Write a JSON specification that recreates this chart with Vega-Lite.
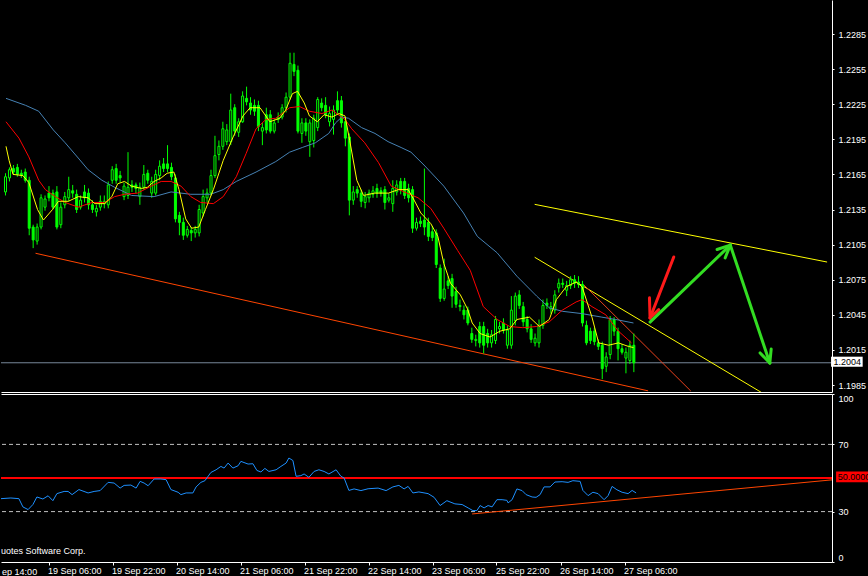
{
  "$schema": "https://vega.github.io/schema/vega-lite/v6.json",
  "background": "#000000",
  "padding": 0,
  "spacing": 1,
  "config": {
    "view": {"stroke": null},
    "axis": {"labelFont": "Liberation Sans", "labelFontSize": 9, "labelColor": "#ffffff", "domainColor": "#ffffff", "tickColor": "#ffffff", "grid": false, "title": null, "labelOverlap": false, "labelBound": false},
    "text": {"font": "Liberation Sans", "fontSize": 9}
  },
  "datasets": {
    "candles": [
      {"k":-1,"o":1.2150,"h":1.2166,"l":1.2147,"c":1.2163},
      {"k":0,"o":1.2162,"h":1.2171,"l":1.2159,"c":1.2169},
      {"k":1,"o":1.2170,"h":1.2173,"l":1.2165,"c":1.2167},
      {"k":2,"o":1.2171,"h":1.2174,"l":1.2163,"c":1.2165},
      {"k":3,"o":1.2166,"h":1.2169,"l":1.2162,"c":1.2164},
      {"k":4,"o":1.2167,"h":1.2170,"l":1.2158,"c":1.2160},
      {"k":5,"o":1.2160,"h":1.2163,"l":1.2113,"c":1.2119},
      {"k":6,"o":1.2120,"h":1.2122,"l":1.2102,"c":1.2109},
      {"k":7,"o":1.2108,"h":1.2123,"l":1.2105,"c":1.2120},
      {"k":8,"o":1.2120,"h":1.2148,"l":1.2118,"c":1.2145},
      {"k":9,"o":1.2137,"h":1.2147,"l":1.2134,"c":1.2144},
      {"k":10,"o":1.2149,"h":1.2155,"l":1.2142,"c":1.2145},
      {"k":11,"o":1.2149,"h":1.2152,"l":1.2135,"c":1.2137},
      {"k":12,"o":1.2150,"h":1.2155,"l":1.2118,"c":1.2120},
      {"k":13,"o":1.2122,"h":1.2141,"l":1.2119,"c":1.2137},
      {"k":14,"o":1.2139,"h":1.2150,"l":1.2136,"c":1.2146},
      {"k":15,"o":1.2145,"h":1.2163,"l":1.2142,"c":1.2152},
      {"k":16,"o":1.2151,"h":1.2156,"l":1.2145,"c":1.2149},
      {"k":17,"o":1.2148,"h":1.2152,"l":1.2132,"c":1.2135},
      {"k":18,"o":1.2137,"h":1.2147,"l":1.2135,"c":1.2143},
      {"k":19,"o":1.2150,"h":1.2156,"l":1.2141,"c":1.2145},
      {"k":20,"o":1.2149,"h":1.2153,"l":1.2135,"c":1.2139},
      {"k":21,"o":1.2139,"h":1.2143,"l":1.2132,"c":1.2135},
      {"k":22,"o":1.2133,"h":1.2139,"l":1.2129,"c":1.2136},
      {"k":23,"o":1.2137,"h":1.2147,"l":1.2134,"c":1.2142},
      {"k":24,"o":1.2140,"h":1.2147,"l":1.2136,"c":1.2142},
      {"k":25,"o":1.2139,"h":1.2159,"l":1.2136,"c":1.2156},
      {"k":26,"o":1.2160,"h":1.2172,"l":1.2157,"c":1.2169},
      {"k":27,"o":1.2170,"h":1.2174,"l":1.2157,"c":1.2160},
      {"k":28,"o":1.2164,"h":1.2168,"l":1.2158,"c":1.2162},
      {"k":29,"o":1.2146,"h":1.2158,"l":1.2143,"c":1.2155},
      {"k":30,"o":1.2147,"h":1.2184,"l":1.2144,"c":1.2154},
      {"k":31,"o":1.2156,"h":1.2160,"l":1.2150,"c":1.2154},
      {"k":32,"o":1.2156,"h":1.2158,"l":1.2149,"c":1.2153},
      {"k":33,"o":1.2146,"h":1.2158,"l":1.2139,"c":1.2154},
      {"k":34,"o":1.2154,"h":1.2173,"l":1.2152,"c":1.2165},
      {"k":35,"o":1.2166,"h":1.2169,"l":1.2157,"c":1.2160},
      {"k":36,"o":1.2149,"h":1.2163,"l":1.2145,"c":1.2159},
      {"k":37,"o":1.2149,"h":1.2169,"l":1.2147,"c":1.2165},
      {"k":38,"o":1.2164,"h":1.2177,"l":1.2160,"c":1.2172},
      {"k":39,"o":1.2174,"h":1.2179,"l":1.2167,"c":1.2170},
      {"k":40,"o":1.2174,"h":1.2190,"l":1.2167,"c":1.2170},
      {"k":41,"o":1.2171,"h":1.2175,"l":1.2160,"c":1.2163},
      {"k":42,"o":1.2162,"h":1.2165,"l":1.2124,"c":1.2127},
      {"k":43,"o":1.2130,"h":1.2133,"l":1.2113,"c":1.2124},
      {"k":44,"o":1.2124,"h":1.2128,"l":1.2109,"c":1.2113},
      {"k":45,"o":1.2113,"h":1.2121,"l":1.2111,"c":1.2118},
      {"k":46,"o":1.2117,"h":1.2120,"l":1.2108,"c":1.2115},
      {"k":47,"o":1.2115,"h":1.2121,"l":1.2111,"c":1.2118},
      {"k":48,"o":1.2115,"h":1.2139,"l":1.2112,"c":1.2135},
      {"k":49,"o":1.2132,"h":1.2152,"l":1.2129,"c":1.2146},
      {"k":50,"o":1.2145,"h":1.2153,"l":1.2141,"c":1.2149},
      {"k":51,"o":1.2149,"h":1.2169,"l":1.2147,"c":1.2164},
      {"k":52,"o":1.2164,"h":1.2198,"l":1.2162,"c":1.2181},
      {"k":53,"o":1.2182,"h":1.2194,"l":1.2177,"c":1.2189},
      {"k":54,"o":1.2189,"h":1.2210,"l":1.2186,"c":1.2204},
      {"k":55,"o":1.2193,"h":1.2208,"l":1.2190,"c":1.2203},
      {"k":56,"o":1.2193,"h":1.2234,"l":1.2190,"c":1.2220},
      {"k":57,"o":1.2222,"h":1.2225,"l":1.2198,"c":1.2202},
      {"k":58,"o":1.2201,"h":1.2213,"l":1.2197,"c":1.2210},
      {"k":59,"o":1.2210,"h":1.2236,"l":1.2209,"c":1.2232},
      {"k":60,"o":1.2230,"h":1.2240,"l":1.2224,"c":1.2227},
      {"k":61,"o":1.2226,"h":1.2231,"l":1.2216,"c":1.2220},
      {"k":62,"o":1.2224,"h":1.2229,"l":1.2215,"c":1.2219},
      {"k":63,"o":1.2224,"h":1.2228,"l":1.2202,"c":1.2206},
      {"k":64,"o":1.2202,"h":1.2209,"l":1.2190,"c":1.2205},
      {"k":65,"o":1.2216,"h":1.2222,"l":1.2200,"c":1.2203},
      {"k":66,"o":1.2216,"h":1.2220,"l":1.2200,"c":1.2202},
      {"k":67,"o":1.2202,"h":1.2212,"l":1.2200,"c":1.2209},
      {"k":68,"o":1.2212,"h":1.2218,"l":1.2209,"c":1.2214},
      {"k":69,"o":1.2214,"h":1.2225,"l":1.2212,"c":1.2222},
      {"k":70,"o":1.2222,"h":1.2235,"l":1.2218,"c":1.2231},
      {"k":71,"o":1.2231,"h":1.2269,"l":1.2229,"c":1.2260},
      {"k":72,"o":1.2259,"h":1.2269,"l":1.2249,"c":1.2253},
      {"k":73,"o":1.2254,"h":1.2258,"l":1.2200,"c":1.2202},
      {"k":74,"o":1.2200,"h":1.2213,"l":1.2192,"c":1.2209},
      {"k":75,"o":1.2209,"h":1.2213,"l":1.2198,"c":1.2202},
      {"k":76,"o":1.2193,"h":1.2212,"l":1.2180,"c":1.2209},
      {"k":77,"o":1.2194,"h":1.2216,"l":1.2188,"c":1.2213},
      {"k":78,"o":1.2205,"h":1.2231,"l":1.2202,"c":1.2229},
      {"k":79,"o":1.2226,"h":1.2230,"l":1.2219,"c":1.2222},
      {"k":80,"o":1.2224,"h":1.2231,"l":1.2213,"c":1.2216},
      {"k":81,"o":1.2210,"h":1.2223,"l":1.2206,"c":1.2217},
      {"k":82,"o":1.2212,"h":1.2224,"l":1.2199,"c":1.2220},
      {"k":83,"o":1.2228,"h":1.2236,"l":1.2217,"c":1.2220},
      {"k":84,"o":1.2228,"h":1.2232,"l":1.2205,"c":1.2209},
      {"k":85,"o":1.2210,"h":1.2213,"l":1.2189,"c":1.2196},
      {"k":86,"o":1.2197,"h":1.2200,"l":1.2130,"c":1.2143},
      {"k":87,"o":1.2143,"h":1.2155,"l":1.2139,"c":1.2150},
      {"k":88,"o":1.2152,"h":1.2155,"l":1.2145,"c":1.2149},
      {"k":89,"o":1.2149,"h":1.2152,"l":1.2137,"c":1.2142},
      {"k":90,"o":1.2141,"h":1.2150,"l":1.2136,"c":1.2146},
      {"k":91,"o":1.2145,"h":1.2152,"l":1.2141,"c":1.2149},
      {"k":92,"o":1.2148,"h":1.2155,"l":1.2145,"c":1.2151},
      {"k":93,"o":1.2153,"h":1.2157,"l":1.2145,"c":1.2149},
      {"k":94,"o":1.2151,"h":1.2154,"l":1.2146,"c":1.2149},
      {"k":95,"o":1.2152,"h":1.2155,"l":1.2135,"c":1.2141},
      {"k":96,"o":1.2143,"h":1.2149,"l":1.2141,"c":1.2145},
      {"k":97,"o":1.2140,"h":1.2160,"l":1.2133,"c":1.2153},
      {"k":98,"o":1.2150,"h":1.2160,"l":1.2147,"c":1.2156},
      {"k":99,"o":1.2159,"h":1.2162,"l":1.2148,"c":1.2152},
      {"k":100,"o":1.2159,"h":1.2162,"l":1.2144,"c":1.2147},
      {"k":101,"o":1.2153,"h":1.2157,"l":1.2141,"c":1.2145},
      {"k":102,"o":1.2152,"h":1.2155,"l":1.2115,"c":1.2119},
      {"k":103,"o":1.2119,"h":1.2128,"l":1.2117,"c":1.2124},
      {"k":104,"o":1.2125,"h":1.2129,"l":1.2120,"c":1.2123},
      {"k":105,"o":1.2126,"h":1.2170,"l":1.2113,"c":1.2120},
      {"k":106,"o":1.2124,"h":1.2128,"l":1.2108,"c":1.2112},
      {"k":107,"o":1.2116,"h":1.2121,"l":1.2108,"c":1.2111},
      {"k":108,"o":1.2115,"h":1.2118,"l":1.2085,"c":1.2088},
      {"k":109,"o":1.2085,"h":1.2088,"l":1.2056,"c":1.2059},
      {"k":110,"o":1.2059,"h":1.2093,"l":1.2057,"c":1.2067},
      {"k":111,"o":1.2074,"h":1.2078,"l":1.2067,"c":1.2070},
      {"k":112,"o":1.2076,"h":1.2080,"l":1.2051,"c":1.2061},
      {"k":113,"o":1.2065,"h":1.2069,"l":1.2051,"c":1.2054},
      {"k":114,"o":1.2053,"h":1.2058,"l":1.2048,"c":1.2052},
      {"k":115,"o":1.2049,"h":1.2053,"l":1.2041,"c":1.2045},
      {"k":116,"o":1.2049,"h":1.2052,"l":1.2036,"c":1.2038},
      {"k":117,"o":1.2029,"h":1.2034,"l":1.2021,"c":1.2024},
      {"k":118,"o":1.2023,"h":1.2028,"l":1.2018,"c":1.2024},
      {"k":119,"o":1.2035,"h":1.2039,"l":1.2017,"c":1.2021},
      {"k":120,"o":1.2035,"h":1.2039,"l":1.2012,"c":1.2019},
      {"k":121,"o":1.2029,"h":1.2033,"l":1.2017,"c":1.2021},
      {"k":122,"o":1.2021,"h":1.2032,"l":1.2017,"c":1.2028},
      {"k":123,"o":1.2023,"h":1.2044,"l":1.2020,"c":1.2041},
      {"k":124,"o":1.2033,"h":1.2039,"l":1.2029,"c":1.2035},
      {"k":125,"o":1.2038,"h":1.2042,"l":1.2029,"c":1.2032},
      {"k":126,"o":1.2019,"h":1.2036,"l":1.2016,"c":1.2032},
      {"k":127,"o":1.2019,"h":1.2061,"l":1.2016,"c":1.2049},
      {"k":128,"o":1.2040,"h":1.2064,"l":1.2036,"c":1.2061},
      {"k":129,"o":1.2062,"h":1.2066,"l":1.2050,"c":1.2053},
      {"k":130,"o":1.2052,"h":1.2056,"l":1.2035,"c":1.2039},
      {"k":131,"o":1.2041,"h":1.2044,"l":1.2030,"c":1.2033},
      {"k":132,"o":1.2033,"h":1.2037,"l":1.2021,"c":1.2024},
      {"k":133,"o":1.2021,"h":1.2029,"l":1.2018,"c":1.2025},
      {"k":134,"o":1.2021,"h":1.2041,"l":1.2017,"c":1.2036},
      {"k":135,"o":1.2036,"h":1.2058,"l":1.2033,"c":1.2053},
      {"k":136,"o":1.2055,"h":1.2059,"l":1.2050,"c":1.2053},
      {"k":137,"o":1.2050,"h":1.2056,"l":1.2046,"c":1.2052},
      {"k":138,"o":1.2049,"h":1.2066,"l":1.2046,"c":1.2062},
      {"k":139,"o":1.2068,"h":1.2076,"l":1.2064,"c":1.2072},
      {"k":140,"o":1.2072,"h":1.2076,"l":1.2068,"c":1.2071},
      {"k":141,"o":1.2066,"h":1.2074,"l":1.2061,"c":1.2070},
      {"k":142,"o":1.2070,"h":1.2078,"l":1.2067,"c":1.2075},
      {"k":143,"o":1.2075,"h":1.2079,"l":1.2068,"c":1.2072},
      {"k":144,"o":1.2073,"h":1.2078,"l":1.2068,"c":1.2071},
      {"k":145,"o":1.2071,"h":1.2074,"l":1.2035,"c":1.2038},
      {"k":146,"o":1.2036,"h":1.2040,"l":1.2019,"c":1.2021},
      {"k":147,"o":1.2031,"h":1.2034,"l":1.2020,"c":1.2023},
      {"k":148,"o":1.2031,"h":1.2034,"l":1.2019,"c":1.2022},
      {"k":149,"o":1.2021,"h":1.2024,"l":1.2015,"c":1.2018},
      {"k":150,"o":1.2019,"h":1.2022,"l":1.1990,"c":1.1999},
      {"k":151,"o":1.2001,"h":1.2013,"l":1.1996,"c":1.2009},
      {"k":152,"o":1.2011,"h":1.2044,"l":1.2007,"c":1.2041},
      {"k":153,"o":1.2041,"h":1.2043,"l":1.2027,"c":1.2031},
      {"k":154,"o":1.2031,"h":1.2034,"l":1.2006,"c":1.2016},
      {"k":155,"o":1.2016,"h":1.2020,"l":1.2011,"c":1.2013},
      {"k":156,"o":1.2008,"h":1.2017,"l":1.1995,"c":1.2013},
      {"k":157,"o":1.2006,"h":1.2023,"l":1.2003,"c":1.2019},
      {"k":158,"o":1.2019,"h":1.2029,"l":1.1996,"c":1.2004}
    ],
    "maSlow": [
      {"k":-0.875,"v":1.2230},{"k":4.1,"v":1.2224},{"k":7.4,"v":1.2219},{"k":11.1,"v":1.2203},{"k":14.1,"v":1.2192},{"k":17.4,"v":1.2179},{"k":19.9,"v":1.2169},{"k":23.4,"v":1.2160},{"k":26.6,"v":1.2154},{"k":30.9,"v":1.2147},{"k":36.6,"v":1.2146},{"k":40.9,"v":1.2150},{"k":45.9,"v":1.2148},{"k":50.9,"v":1.2148},{"k":54.1,"v":1.2152},{"k":57.4,"v":1.2159},{"k":62.4,"v":1.2167},{"k":67.4,"v":1.2176},{"k":70.9,"v":1.2184},{"k":74.1,"v":1.2188},{"k":77.4,"v":1.2192},{"k":80.8,"v":1.2200},{"k":82.5,"v":1.2209},{"k":84.1,"v":1.2214},{"k":85.8,"v":1.2213},{"k":89.1,"v":1.2205},{"k":92.5,"v":1.2200},{"k":95.8,"v":1.2193},{"k":99.1,"v":1.2188},{"k":101.6,"v":1.2184},{"k":104.9,"v":1.2173},{"k":109.9,"v":1.2155},{"k":114.9,"v":1.2132},{"k":118.4,"v":1.2112},{"k":123.4,"v":1.2098},{"k":128.4,"v":1.2078},{"k":133.4,"v":1.2061},{"k":136.6,"v":1.2051},{"k":139.9,"v":1.2048},{"k":144.9,"v":1.2046},{"k":149.9,"v":1.2043},{"k":153.4,"v":1.2041},{"k":157.9,"v":1.2038}
    ],
    "maMid": [
      {"k":-0.875,"v":1.2210},{"k":2.4,"v":1.2196},{"k":4.9,"v":1.2180},{"k":7.4,"v":1.2160},{"k":9.1,"v":1.2152},{"k":11.6,"v":1.2146},{"k":14.1,"v":1.2141},{"k":17.4,"v":1.2137},{"k":20.9,"v":1.2141},{"k":24.1,"v":1.2141},{"k":26.6,"v":1.2146},{"k":29.1,"v":1.2148},{"k":32.4,"v":1.2149},{"k":35.9,"v":1.2155},{"k":38.4,"v":1.2159},{"k":40.9,"v":1.2159},{"k":43.4,"v":1.2155},{"k":45.9,"v":1.2146},{"k":48.4,"v":1.2141},{"k":51.6,"v":1.2140},{"k":54.1,"v":1.2146},{"k":57.4,"v":1.2163},{"k":59.9,"v":1.2183},{"k":62.4,"v":1.2204},{"k":64.9,"v":1.2212},{"k":67.4,"v":1.2213},{"k":70.9,"v":1.2222},{"k":73.4,"v":1.2223},{"k":75.9,"v":1.2219},{"k":79.1,"v":1.2217},{"k":81.6,"v":1.2220},{"k":84.9,"v":1.2212},{"k":86.6,"v":1.2204},{"k":89.9,"v":1.2192},{"k":93.4,"v":1.2175},{"k":96.6,"v":1.2155},{"k":99.9,"v":1.2150},{"k":103.4,"v":1.2145},{"k":106.6,"v":1.2136},{"k":109.9,"v":1.2119},{"k":113.4,"v":1.2100},{"k":116.6,"v":1.2083},{"k":119.9,"v":1.2052},{"k":123.4,"v":1.2041},{"k":126.6,"v":1.2035},{"k":129.9,"v":1.2034},{"k":133.4,"v":1.2035},{"k":136.6,"v":1.2039},{"k":139.9,"v":1.2049},{"k":143.4,"v":1.2056},{"k":144.9,"v":1.2058},{"k":147.4,"v":1.2052},{"k":150.9,"v":1.2045},{"k":154.1,"v":1.2031},{"k":157.4,"v":1.2021}
    ],
    "maFast": [
      {"k":-0.875,"v":1.2189},{"k":-0.1,"v":1.2177},{"k":0.9,"v":1.2165},{"k":3.4,"v":1.2164},{"k":4.9,"v":1.2158},{"k":7.1,"v":1.2135},{"k":8.6,"v":1.2126},{"k":10.9,"v":1.2135},{"k":12.4,"v":1.2142},{"k":14.9,"v":1.2142},{"k":17.4,"v":1.2146},{"k":19.9,"v":1.2145},{"k":21.6,"v":1.2140},{"k":24.1,"v":1.2140},{"k":25.9,"v":1.2146},{"k":27.4,"v":1.2157},{"k":29.1,"v":1.2159},{"k":30.9,"v":1.2155},{"k":33.4,"v":1.2153},{"k":34.9,"v":1.2154},{"k":36.6,"v":1.2159},{"k":38.4,"v":1.2162},{"k":39.9,"v":1.2166},{"k":41.6,"v":1.2167},{"k":42.9,"v":1.2152},{"k":44.6,"v":1.2127},{"k":46.1,"v":1.2119},{"k":47.9,"v":1.2120},{"k":49.6,"v":1.2135},{"k":51.6,"v":1.2152},{"k":54.1,"v":1.2177},{"k":56.6,"v":1.2197},{"k":59.1,"v":1.2215},{"k":60.9,"v":1.2222},{"k":63.4,"v":1.2222},{"k":65.9,"v":1.2210},{"k":68.4,"v":1.2213},{"k":69.9,"v":1.2220},{"k":71.6,"v":1.2234},{"k":72.9,"v":1.2236},{"k":74.6,"v":1.2226},{"k":75.9,"v":1.2215},{"k":77.9,"v":1.2210},{"k":79.6,"v":1.2216},{"k":81.6,"v":1.2214},{"k":83.4,"v":1.2217},{"k":84.9,"v":1.2215},{"k":86.1,"v":1.2194},{"k":87.9,"v":1.2160},{"k":89.6,"v":1.2147},{"k":92.4,"v":1.2149},{"k":95.9,"v":1.2149},{"k":98.4,"v":1.2152},{"k":100.9,"v":1.2152},{"k":102.4,"v":1.2143},{"k":104.1,"v":1.2132},{"k":106.6,"v":1.2123},{"k":108.4,"v":1.2112},{"k":109.9,"v":1.2089},{"k":111.6,"v":1.2072},{"k":114.1,"v":1.2062},{"k":115.9,"v":1.2050},{"k":117.1,"v":1.2038},{"k":119.1,"v":1.2029},{"k":121.6,"v":1.2026},{"k":124.1,"v":1.2031},{"k":126.6,"v":1.2033},{"k":128.4,"v":1.2041},{"k":131.6,"v":1.2043},{"k":134.1,"v":1.2035},{"k":136.6,"v":1.2041},{"k":138.4,"v":1.2058},{"k":140.9,"v":1.2069},{"k":143.4,"v":1.2073},{"k":144.9,"v":1.2069},{"k":147.4,"v":1.2043},{"k":149.1,"v":1.2021},{"k":151.6,"v":1.2019},{"k":154.1,"v":1.2021},{"k":156.6,"v":1.2018},{"k":157.9,"v":1.2017}
    ],
    "rsi": [
      {"k":-0.9,"v":37.7},{"k":1.6,"v":38.1},{"k":3.6,"v":37.7},{"k":4.6,"v":32.8},{"k":5.9,"v":31.2},{"k":7.1,"v":34.2},{"k":8.1,"v":38.7},{"k":9.6,"v":37.5},{"k":10.9,"v":39.4},{"k":12.1,"v":36.5},{"k":13.1,"v":40.7},{"k":14.9,"v":42},{"k":15.9,"v":42},{"k":16.9,"v":40.1},{"k":18.6,"v":43.1},{"k":20.9,"v":41.1},{"k":22.4,"v":42},{"k":23.9,"v":42.5},{"k":25.9,"v":47.4},{"k":27.4,"v":47},{"k":28.9,"v":44},{"k":29.9,"v":45.6},{"k":31.6,"v":45.8},{"k":32.9,"v":44},{"k":33.9,"v":48},{"k":34.9,"v":47},{"k":35.9,"v":45.4},{"k":37.4,"v":49.4},{"k":39.1,"v":49.4},{"k":40.4,"v":49},{"k":41.6,"v":43.1},{"k":43.4,"v":41.5},{"k":44.1,"v":40.1},{"k":45.4,"v":41.1},{"k":47.1,"v":41.1},{"k":47.9,"v":44.7},{"k":49.1,"v":47.4},{"k":50.1,"v":48.4},{"k":51.6,"v":53.3},{"k":52.9,"v":54.9},{"k":54.1,"v":56.9},{"k":54.9,"v":55.9},{"k":55.9,"v":58.9},{"k":57.1,"v":55.9},{"k":58.4,"v":57.3},{"k":59.1,"v":59.9},{"k":60.9,"v":58.3},{"k":62.1,"v":58.5},{"k":63.1,"v":54.5},{"k":64.1,"v":53.6},{"k":65.1,"v":55.7},{"k":66.1,"v":53.9},{"k":67.9,"v":54.9},{"k":69.1,"v":56.9},{"k":70.4,"v":58.9},{"k":71.1,"v":61.9},{"k":72.1,"v":60.4},{"k":72.9,"v":51},{"k":74.1,"v":51.4},{"k":74.9,"v":52.4},{"k":76.1,"v":50.4},{"k":77.4,"v":53.9},{"k":78.6,"v":54.9},{"k":79.9,"v":53.9},{"k":81.1,"v":52.4},{"k":82.9,"v":54.9},{"k":84.1,"v":51},{"k":84.9,"v":50},{"k":86.1,"v":42.6},{"k":87.4,"v":43.5},{"k":89.1,"v":42.5},{"k":90.9,"v":43.6},{"k":93.4,"v":44},{"k":95.4,"v":42.5},{"k":97.1,"v":44.7},{"k":98.6,"v":45.6},{"k":99.9,"v":43.5},{"k":100.9,"v":45},{"k":102.1,"v":41.1},{"k":103.6,"v":41.7},{"k":105.9,"v":40.7},{"k":107.4,"v":38.5},{"k":108.9,"v":33.6},{"k":110.6,"v":36.5},{"k":112.6,"v":34.6},{"k":114.4,"v":34.2},{"k":115.9,"v":32.2},{"k":117.1,"v":30.6},{"k":118.1,"v":30.6},{"k":118.9,"v":33.6},{"k":119.9,"v":32.2},{"k":120.9,"v":33.6},{"k":121.9,"v":32.8},{"k":123.1,"v":37.1},{"k":124.4,"v":37.1},{"k":125.6,"v":36.7},{"k":125.9,"v":35.2},{"k":126.9,"v":37.1},{"k":128.1,"v":43.5},{"k":129.4,"v":42.5},{"k":130.4,"v":40.1},{"k":131.9,"v":38.7},{"k":132.9,"v":38.5},{"k":133.9,"v":40.1},{"k":134.9,"v":44.7},{"k":136.4,"v":44.7},{"k":137.6,"v":47.6},{"k":139.4,"v":47.8},{"k":140.9,"v":47.4},{"k":142.1,"v":48.4},{"k":143.9,"v":48},{"k":144.6,"v":42.6},{"k":145.9,"v":39.5},{"k":147.1,"v":41.5},{"k":148.4,"v":40.7},{"k":149.9,"v":37.1},{"k":150.9,"v":39.5},{"k":151.9,"v":45},{"k":153.1,"v":43},{"k":154.4,"v":41.5},{"k":155.9,"v":40.7},{"k":156.9,"v":42.6},{"k":157.9,"v":41.1}
    ],
    "trendOrange": [{"k1":6.6,"p1":1.20976,"k2":161.6,"p2":1.19800}],
    "trendYellow": [{"k1":132.9,"p1":1.21394,"k2":206.9,"p2":1.20901},{"k1":132.9,"p1":1.20942,"k2":190.4,"p2":1.19784}],
    "trendThin": [{"k1":145.4,"p1":1.20704,"k2":172.4,"p2":1.19799}],
    "arrowRed": [{"k1":168.1,"p1":1.20944,"k2":162.1,"p2":1.20423},{"k1":162.1,"p1":1.20423,"k2":164.3,"p2":1.20494},{"k1":162.1,"p1":1.20423,"k2":161.95,"p2":1.20595}],
    "arrowGreen": [{"k1":162.1,"p1":1.20388,"k2":182.4,"p2":1.21046},{"k1":182.4,"p1":1.21046,"k2":181.1,"p2":1.20936},{"k1":182.4,"p1":1.21046,"k2":179.05,"p2":1.21008},{"k1":182.4,"p1":1.21046,"k2":192.4,"p2":1.20038},{"k1":192.4,"p1":1.20038,"k2":192.75,"p2":1.20157},{"k1":192.4,"p1":1.20038,"k2":189.95,"p2":1.20124}],
    "hline": [{"p":1.2004}],
    "priceBox": [{"k1":207.9,"k2":215.9,"p1":1.20006,"p2":1.20092,"k":208.5,"p":1.20046,"t":"1.2004"}],
    "rsiTrend": [{"k1":116.9,"v1":28.6,"k2":206.9,"v2":48.9}],
    "levels": [{"v":30},{"v":70}],
    "mid": [{"v":50}],
    "rsiBox": [{"k1":207.9,"k2":217,"v1":47.4,"v2":53.9,"k":208.3,"v":50.4,"t":"50.0000"}],
    "copy": [{"k":-0.875,"v":6.6,"t":"uotes Software Corp."}],
    "firstLabel": [{"k":-0.6,"v":-3.6,"t":"ep 14:00"}]
  },
  "vconcat": [
    {
      "width": 831,
      "height": 392,
      "layer": [
        {
          "data": {"name": "hline"},
          "mark": {"type": "rule", "color": "#778899", "strokeWidth": 1},
          "encoding": {
            "y": {"field": "p", "type": "quantitative", "scale": {"domain": [1.197902, 1.231406], "nice": false, "zero": false},
              "axis": {"orient": "right", "values": [1.1985, 1.2015, 1.2045, 1.2075, 1.2105, 1.2135, 1.2165, 1.2195, 1.2225, 1.2255, 1.2285], "tickCount": 30, "format": ".4f", "tickSize": 2, "labelPadding": 4, "labelAlign": "left", "labelBaseline": "middle", "labelOverlap": false}}
          }
        },
        {
          "data": {"name": "trendOrange"},
          "mark": {"type": "rule", "color": "#ff4500", "strokeWidth": 1, "clip": true},
          "encoding": {
            "x": {"field": "k1", "type": "quantitative", "scale": {"domain": [-0.875, 206.875], "nice": false, "zero": false},
              "axis": {"orient": "bottom", "labels": false, "ticks": false, "domain": true}},
            "x2": {"field": "k2"},
            "y": {"field": "p1", "type": "quantitative", "scale": {"domain": [1.197902, 1.231406], "nice": false, "zero": false}},
            "y2": {"field": "p2"}
          }
        },
        {
          "data": {"name": "trendYellow"},
          "mark": {"type": "rule", "color": "#ffff00", "strokeWidth": 1, "clip": true},
          "encoding": {
            "x": {"field": "k1", "type": "quantitative", "scale": {"domain": [-0.875, 206.875], "nice": false, "zero": false}},
            "x2": {"field": "k2"},
            "y": {"field": "p1", "type": "quantitative", "scale": {"domain": [1.197902, 1.231406], "nice": false, "zero": false}},
            "y2": {"field": "p2"}
          }
        },
        {
          "data": {"name": "trendThin"},
          "mark": {"type": "rule", "color": "#e8401c", "strokeWidth": 1, "clip": true},
          "encoding": {
            "x": {"field": "k1", "type": "quantitative", "scale": {"domain": [-0.875, 206.875], "nice": false, "zero": false}},
            "x2": {"field": "k2"},
            "y": {"field": "p1", "type": "quantitative", "scale": {"domain": [1.197902, 1.231406], "nice": false, "zero": false}},
            "y2": {"field": "p2"}
          }
        },
        {
          "data": {"name": "candles"},
          "mark": {"type": "rule", "color": "#00ff00", "strokeWidth": 1, "clip": true},
          "encoding": {
            "x": {"field": "k", "type": "quantitative", "scale": {"domain": [-0.875, 206.875], "nice": false, "zero": false}},
            "y": {"field": "l", "type": "quantitative", "scale": {"domain": [1.197902, 1.231406], "nice": false, "zero": false}},
            "y2": {"field": "h"}
          }
        },
        {
          "data": {"name": "candles"},
          "mark": {"type": "bar", "size": 2, "stroke": "#00ff00", "strokeWidth": 1, "clip": true},
          "encoding": {
            "x": {"field": "k", "type": "quantitative", "scale": {"domain": [-0.875, 206.875], "nice": false, "zero": false}},
            "y": {"field": "o", "type": "quantitative", "scale": {"domain": [1.197902, 1.231406], "nice": false, "zero": false}},
            "y2": {"field": "c"},
            "fill": {"condition": {"test": "datum.c > datum.o", "value": "#000000"}, "value": "#00ff00"}
          }
        },
        {
          "data": {"name": "maSlow"},
          "mark": {"type": "line", "color": "#4682b4", "strokeWidth": 1, "clip": true},
          "encoding": {
            "x": {"field": "k", "type": "quantitative", "scale": {"domain": [-0.875, 206.875], "nice": false, "zero": false}},
            "y": {"field": "v", "type": "quantitative", "scale": {"domain": [1.197902, 1.231406], "nice": false, "zero": false}}
          }
        },
        {
          "data": {"name": "maMid"},
          "mark": {"type": "line", "color": "#ff0000", "strokeWidth": 1, "clip": true},
          "encoding": {
            "x": {"field": "k", "type": "quantitative", "scale": {"domain": [-0.875, 206.875], "nice": false, "zero": false}},
            "y": {"field": "v", "type": "quantitative", "scale": {"domain": [1.197902, 1.231406], "nice": false, "zero": false}}
          }
        },
        {
          "data": {"name": "maFast"},
          "mark": {"type": "line", "color": "#ffff00", "strokeWidth": 1, "clip": true},
          "encoding": {
            "x": {"field": "k", "type": "quantitative", "scale": {"domain": [-0.875, 206.875], "nice": false, "zero": false}},
            "y": {"field": "v", "type": "quantitative", "scale": {"domain": [1.197902, 1.231406], "nice": false, "zero": false}}
          }
        },
        {
          "data": {"name": "arrowRed"},
          "mark": {"type": "rule", "color": "#ff1a1a", "strokeWidth": 3, "strokeCap": "round", "clip": true},
          "encoding": {
            "x": {"field": "k1", "type": "quantitative", "scale": {"domain": [-0.875, 206.875], "nice": false, "zero": false}},
            "x2": {"field": "k2"},
            "y": {"field": "p1", "type": "quantitative", "scale": {"domain": [1.197902, 1.231406], "nice": false, "zero": false}},
            "y2": {"field": "p2"}
          }
        },
        {
          "data": {"name": "arrowGreen"},
          "mark": {"type": "rule", "color": "#33dd22", "strokeWidth": 3, "strokeCap": "round", "clip": true},
          "encoding": {
            "x": {"field": "k1", "type": "quantitative", "scale": {"domain": [-0.875, 206.875], "nice": false, "zero": false}},
            "x2": {"field": "k2"},
            "y": {"field": "p1", "type": "quantitative", "scale": {"domain": [1.197902, 1.231406], "nice": false, "zero": false}},
            "y2": {"field": "p2"}
          }
        },
        {
          "data": {"name": "priceBox"},
          "mark": {"type": "rect", "fill": "#ffffff", "clip": false},
          "encoding": {
            "x": {"field": "k1", "type": "quantitative", "scale": {"domain": [-0.875, 206.875], "nice": false, "zero": false}},
            "x2": {"field": "k2"},
            "y": {"field": "p1", "type": "quantitative", "scale": {"domain": [1.197902, 1.231406], "nice": false, "zero": false}},
            "y2": {"field": "p2"}
          }
        },
        {
          "data": {"name": "priceBox"},
          "mark": {"type": "text", "color": "#000000", "align": "left", "baseline": "middle", "clip": false},
          "encoding": {
            "x": {"field": "k", "type": "quantitative", "scale": {"domain": [-0.875, 206.875], "nice": false, "zero": false}},
            "y": {"field": "p", "type": "quantitative", "scale": {"domain": [1.197902, 1.231406], "nice": false, "zero": false}},
            "text": {"field": "t"}
          }
        }
      ]
    },
    {
      "width": 831,
      "height": 168,
      "resolve": {"axis": {"x": "independent"}},
      "layer": [
        {
          "data": {"name": "levels"},
          "mark": {"type": "rule", "color": "#c0c0c0", "strokeWidth": 1, "strokeDash": [4, 3]},
          "encoding": {
            "y": {"field": "v", "type": "quantitative", "scale": {"domain": [0, 100], "nice": false, "zero": false},
              "axis": {"orient": "right", "values": [0, 30, 70, 100], "tickCount": 10, "tickSize": 2, "labelPadding": 4, "labelAlign": "left", "labelFlush": true, "labelOverlap": false}}
          }
        },
        {
          "data": {"name": "mid"},
          "mark": {"type": "rule", "color": "#ff0000", "strokeWidth": 2},
          "encoding": {
            "y": {"field": "v", "type": "quantitative", "scale": {"domain": [0, 100], "nice": false, "zero": false}}
          }
        },
        {
          "data": {"name": "rsiTrend"},
          "mark": {"type": "rule", "color": "#ff4500", "strokeWidth": 1, "clip": true},
          "encoding": {
            "x": {"field": "k1", "type": "quantitative", "scale": {"domain": [-0.875, 206.875], "nice": false, "zero": false},
              "axis": {"orient": "bottom", "values": [11, 27, 43, 59, 75, 91, 107, 123, 139, 155], "tickCount": 30, "tickSize": 3, "labelPadding": 1, "labelAlign": "left", "labelBaseline": "top", "labelOverlap": false, "labelFlush": false, "labelOffset": -1,
                "labelExpr": "['19 Sep 06:00','19 Sep 22:00','20 Sep 14:00','21 Sep 06:00','21 Sep 22:00','22 Sep 14:00','23 Sep 06:00','25 Sep 22:00','26 Sep 14:00','27 Sep 06:00'][(datum.value-11)/16]"}},
            "x2": {"field": "k2"},
            "y": {"field": "v1", "type": "quantitative", "scale": {"domain": [0, 100], "nice": false, "zero": false}},
            "y2": {"field": "v2"}
          }
        },
        {
          "data": {"name": "rsi"},
          "mark": {"type": "line", "color": "#1e90ff", "strokeWidth": 1, "clip": true},
          "encoding": {
            "x": {"field": "k", "type": "quantitative", "scale": {"domain": [-0.875, 206.875], "nice": false, "zero": false},
              "axis": {"orient": "top", "labels": false, "ticks": false, "domain": true}},
            "y": {"field": "v", "type": "quantitative", "scale": {"domain": [0, 100], "nice": false, "zero": false}}
          }
        },
        {
          "data": {"name": "rsiBox"},
          "mark": {"type": "rect", "fill": "#ff0000", "clip": false},
          "encoding": {
            "x": {"field": "k1", "type": "quantitative", "scale": {"domain": [-0.875, 206.875], "nice": false, "zero": false}, "axis": null},
            "x2": {"field": "k2"},
            "y": {"field": "v1", "type": "quantitative", "scale": {"domain": [0, 100], "nice": false, "zero": false}},
            "y2": {"field": "v2"}
          }
        },
        {
          "data": {"name": "rsiBox"},
          "mark": {"type": "text", "color": "#000000", "align": "left", "baseline": "middle", "clip": false},
          "encoding": {
            "x": {"field": "k", "type": "quantitative", "scale": {"domain": [-0.875, 206.875], "nice": false, "zero": false}, "axis": null},
            "y": {"field": "v", "type": "quantitative", "scale": {"domain": [0, 100], "nice": false, "zero": false}},
            "text": {"field": "t"}
          }
        },
        {
          "data": {"name": "copy"},
          "mark": {"type": "text", "color": "#ffffff", "align": "left", "baseline": "middle", "clip": false},
          "encoding": {
            "x": {"field": "k", "type": "quantitative", "scale": {"domain": [-0.875, 206.875], "nice": false, "zero": false}, "axis": null},
            "y": {"field": "v", "type": "quantitative", "scale": {"domain": [0, 100], "nice": false, "zero": false}},
            "text": {"field": "t"}
          }
        },
        {
          "data": {"name": "firstLabel"},
          "mark": {"type": "text", "color": "#ffffff", "align": "left", "baseline": "top", "clip": false},
          "encoding": {
            "x": {"field": "k", "type": "quantitative", "scale": {"domain": [-0.875, 206.875], "nice": false, "zero": false}, "axis": null},
            "y": {"field": "v", "type": "quantitative", "scale": {"domain": [0, 100], "nice": false, "zero": false}},
            "text": {"field": "t"}
          }
        }
      ]
    }
  ]
}
